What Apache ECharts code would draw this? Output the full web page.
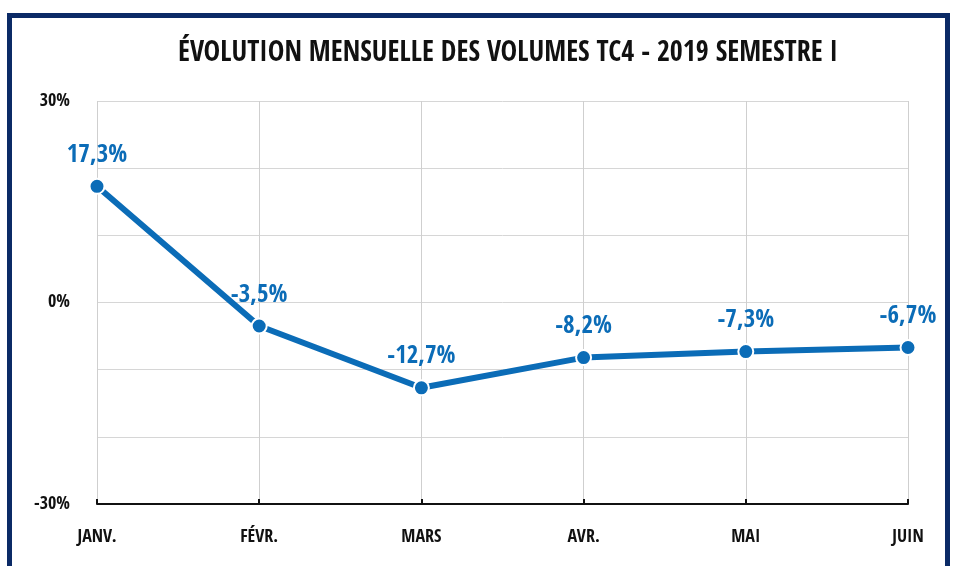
<!DOCTYPE html>
<html>
<head>
<meta charset="utf-8">
<script src="https://cdn.jsdelivr.net/npm/echarts@6/dist/echarts.min.js"></script>
<style>
html,body{margin:0;padding:0;background:#fff;}
#chart{width:955px;height:566px;}
</style>
</head>
<body>
<div id="chart"></div>
<script>
var categories = ['JANV.', 'FÉVR.', 'MARS', 'AVR.', 'MAI', 'JUIN'];
var values = [17.3, -3.5, -12.7, -8.2, -7.3, -6.7];
var titleText = 'ÉVOLUTION MENSUELLE DES VOLUMES TC4 - 2019 SEMESTRE I';

var FONT = "'Open Sans Condensed', 'Roboto Condensed', sans-serif";
var chart = echarts.init(document.getElementById('chart'));
chart.setOption({
  backgroundColor: '#fff',
  animation: false,
  graphic: [{
    type: 'rect',
    shape: {x: 9.5, y: 15.5, width: 938, height: 620},
    style: {fill: 'none', stroke: '#0b2a66', lineWidth: 5},
    silent: true
  }],
  title: {
    text: titleText,
    left: 173,
    top: 35,
    textStyle: {fontFamily: FONT, fontWeight: 'bold', fontSize: 28, color: '#111'}
  },
  grid: {left: 97, right: 47, top: 101, bottom: 62},
  xAxis: {
    type: 'category',
    data: categories,
    boundaryGap: false,
    axisLine: {onZero: false, lineStyle: {color: '#111', width: 2}},
    axisTick: {show: true, inside: true, length: 5, lineStyle: {color: '#111', width: 2}},
    axisLabel: {fontFamily: FONT, fontWeight: 'bold', fontSize: 18, color: '#111', margin: 24},
    splitLine: {show: true, lineStyle: {color: '#cfcfcf', width: 1}}
  },
  yAxis: {
    type: 'value',
    min: -30, max: 30, interval: 10,
    axisLine: {show: false},
    axisTick: {show: false},
    axisLabel: {
      fontFamily: FONT, fontWeight: 'bold', fontSize: 18, color: '#111', margin: 27,
      formatter: function (v) { return (v % 30 === 0) ? v + '%' : ''; }
    },
    splitLine: {show: true, lineStyle: {color: '#d6d6d6', width: 1}}
  },
  series: [{
    type: 'line',
    data: values,
    lineStyle: {color: '#0b6cb7', width: 6},
    itemStyle: {color: '#0b6cb7', borderColor: '#fff', borderWidth: 2},
    symbol: 'circle',
    symbolSize: 15,
    label: {
      show: true,
      position: 'top',
      distance: 10,
      fontFamily: FONT,
      fontWeight: 'bold',
      fontSize: 25,
      color: '#0b6cb7',
      formatter: function (p) { return String(p.value).replace('.', ',') + '%'; }
    },
    z: 3
  }]
});
</script>
</body>
</html>
